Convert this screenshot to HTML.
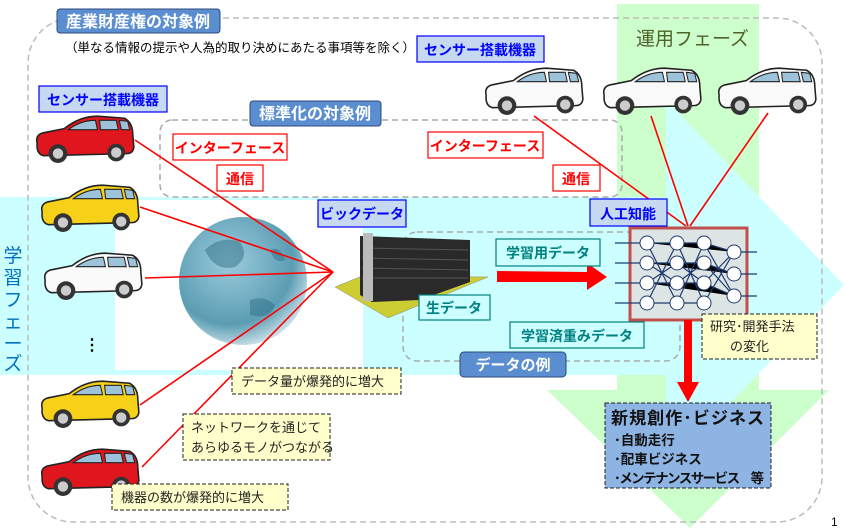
<!DOCTYPE html>
<html><head><meta charset="utf-8"><style>
html,body{margin:0;padding:0;background:#fff;}
svg{display:block;}
text{font-family:"Liberation Sans","Noto Sans CJK JP",sans-serif;}
.b{font-weight:bold;}
</style></head><body>
<svg width="844" height="528" viewBox="0 0 844 528" xmlns="http://www.w3.org/2000/svg">
<defs>
<radialGradient id="gl" cx="40%" cy="35%" r="70%"><stop offset="0" stop-color="#9ccbdc"/><stop offset="0.7" stop-color="#5b9db3"/><stop offset="1" stop-color="#dbeaf0"/></radialGradient>
<symbol id="car" viewBox="0 0 100 50">
<path d="M4,30 Q2,22 10,20 L30,16 Q45,4 62,4 L88,6 Q96,10 96,22 L97,34 Q96,40 90,40 L10,42 Q3,40 4,30Z" fill="currentColor" stroke="#222" stroke-width="1.5"/>
<path d="M34,17 Q46,8 60,8 L62,17Z M64,8 L80,8 L82,17 L65,17Z M83,8 L91,9 L93,17 L85,17Z" fill="#9cc3d9" stroke="#222"/>
<circle cx="24" cy="40" r="9" fill="#333"/><circle cx="24" cy="40" r="5" fill="#ccc"/>
<circle cx="80" cy="39" r="8.5" fill="#333"/><circle cx="80" cy="39" r="5" fill="#ccc"/>
</symbol>
</defs>
<polygon points="617,4 759,4 759,390 829,390 690,528 547,390 617,390" fill="#ccffcc"/>
<polygon points="0,197 666,197 666,100 844,285 666,470 666,375 0,375" fill="#ccffff"/>
<rect x="115" y="200" width="248" height="170" fill="#fff"/>
<circle cx="243" cy="281" r="64" fill="url(#gl)"/>
<path d="M205,250 q15,-15 35,-8 q10,15 -5,25 q-20,5 -30,-17Z M250,300 q15,-5 25,5 q-5,15 -25,10Z M270,250 q10,-5 15,10 q-10,5 -15,-10Z" fill="#2f6f86" opacity="0.5"/>
<rect x="28" y="18" width="794" height="504" rx="45" fill="none" stroke="#bbb" stroke-width="1.5" stroke-dasharray="6,4"/>
<rect x="160" y="120" width="462" height="77" rx="12" fill="none" stroke="#aaa" stroke-width="1.5" stroke-dasharray="6,4"/>
<rect x="403" y="232" width="277" height="129" rx="14" fill="none" stroke="#aaa" stroke-width="1.5" stroke-dasharray="6,4"/>
<polygon points="335,287 362,276 488,277 388,318" fill="#cccc33" stroke="#888" stroke-width="0.5"/>
<polygon points="360,236 470,240 470,282 420,300 372,302 360,295" fill="#2a2a2a"/>
<g stroke="#555" stroke-width="1"><line x1="362" y1="248" x2="468" y2="250"/><line x1="362" y1="258" x2="468" y2="260"/><line x1="362" y1="268" x2="468" y2="270"/><line x1="362" y1="278" x2="468" y2="278"/></g>
<rect x="363" y="233" width="10" height="68" fill="#bbb"/>
<g stroke="#f00" stroke-width="1.6">
<line x1="135" y1="140" x2="333" y2="272"/><line x1="140" y1="207" x2="333" y2="272"/><line x1="145" y1="278" x2="333" y2="272"/>
<line x1="140" y1="405" x2="333" y2="272"/><line x1="142" y1="467" x2="333" y2="272"/>
<line x1="534" y1="116" x2="686" y2="226"/><line x1="651" y1="116" x2="688" y2="226"/><line x1="768" y1="113" x2="690" y2="226"/>
</g>
<use href="#car" x="33" y="112" width="104" height="52" color="#e0161e"/>
<use href="#car" x="38" y="181" width="104" height="52" color="#f7d117"/>
<use href="#car" x="40" y="249" width="106" height="52" color="#fafafa"/>
<use href="#car" x="38" y="377" width="104" height="52" color="#f7d117"/>
<use href="#car" x="38" y="445" width="104" height="52" color="#e0161e"/>
<use href="#car" x="482" y="64" width="104" height="52" color="#fafafa"/>
<use href="#car" x="600" y="64" width="104" height="52" color="#fafafa"/>
<use href="#car" x="715" y="64" width="104" height="52" color="#fafafa"/>
<text x="84" y="350" font-size="16" class="b">⋮</text>
<rect x="630" y="228" width="117" height="92" fill="#dde4e4" stroke="#c0504d" stroke-width="3"/>
<g stroke="#1f3a6e" stroke-width="1.2">
<path d="M647,243 L677,243 L704,243 L734,252 M647,263 L677,263 L704,263 L734,274 M647,283 L677,283 L704,283 L734,296 M647,303 L677,303 L704,303"/>
<path d="M647,243 L677,303 M647,303 L677,243 M647,263 L677,283 M647,283 L677,263 M677,243 L704,303 M677,303 L704,243 M677,263 L704,283 M677,283 L704,263 M704,243 L734,296 M704,303 L734,252 M704,263 L734,296 M704,283 L734,252"/>
<path d="M615,243 L640,243 M615,263 L640,263 M615,283 L640,283 M615,303 L640,303 M740,252 L757,252 M740,274 L757,274 M740,296 L757,296"/>
</g>
<g fill="#fff" stroke="#1f3a6e" stroke-width="1"><circle cx="647" cy="243" r="7"/><circle cx="647" cy="263" r="7"/><circle cx="647" cy="283" r="7"/><circle cx="647" cy="303" r="7"/><circle cx="677" cy="243" r="7"/><circle cx="677" cy="263" r="7"/><circle cx="677" cy="283" r="7"/><circle cx="677" cy="303" r="7"/><circle cx="704" cy="243" r="7"/><circle cx="704" cy="263" r="7"/><circle cx="704" cy="283" r="7"/><circle cx="704" cy="303" r="7"/><circle cx="734" cy="252" r="7"/><circle cx="734" cy="274" r="7"/><circle cx="734" cy="296" r="7"/></g>
<polygon points="497,271 587,272 587,263 607,277 587,290 587,282 497,282" fill="#f00"/>
<polygon points="684,320 692,320 692,382 699,382 688,402 677,382 684,382" fill="#f00"/>
<rect x="57" y="9" width="163" height="24" rx="3" fill="#5a8ed0" stroke="#2c4a7c"/>
<text x="138" y="27" font-size="16" class="b" fill="#fff" text-anchor="middle">産業財産権の対象例</text>
<text x="65" y="52" font-size="12.5">（単なる情報の提示や人為的取り決めにあたる事項等を除く）</text>
<rect x="250" y="101" width="131" height="25" rx="3" fill="#5a8ed0" stroke="#2c4a7c"/>
<text x="315" y="119" font-size="16" class="b" fill="#fff" text-anchor="middle">標準化の対象例</text>
<rect x="460" y="352" width="106" height="25" rx="4" fill="#5a8ed0" stroke="#2c4a7c"/>
<text x="513" y="370" font-size="15" class="b" fill="#fff" text-anchor="middle">データの例</text>
<g fill="#c6d9f1" stroke="#00f" stroke-width="1.2">
<rect x="39" y="86" width="128" height="26"/><rect x="417" y="36" width="127" height="26"/>
<rect x="318" y="200" width="88" height="27"/><rect x="590" y="199" width="77" height="27"/></g>
<g fill="#00f" class="b" font-size="14" text-anchor="middle">
<text x="103" y="105">センサー搭載機器</text><text x="480" y="55">センサー搭載機器</text>
<text x="362" y="219">ビックデータ</text><text x="628" y="219">人工知能</text></g>
<g fill="#fff" stroke="#f00" stroke-width="1.2">
<rect x="173" y="134" width="114" height="26"/><rect x="217" y="165" width="46" height="26"/>
<rect x="428" y="132" width="115" height="26"/><rect x="553" y="165" width="47" height="26"/></g>
<g fill="#f00" class="b" font-size="14" text-anchor="middle">
<text x="230" y="153">インターフェース</text><text x="240" y="184">通信</text>
<text x="485" y="151">インターフェース</text><text x="576" y="184">通信</text></g>
<g fill="#ccffff" stroke="#008080" stroke-width="1.2">
<rect x="496" y="239" width="104" height="27"/><rect x="419" y="295" width="71" height="25"/><rect x="510" y="322" width="134" height="26"/></g>
<g fill="#008080" class="b" font-size="14" text-anchor="middle">
<text x="548" y="258">学習用データ</text><text x="454" y="313">生データ</text><text x="577" y="341">学習済重みデータ</text></g>
<text x="636" y="45" font-size="19" fill="#4f6228">運用フェーズ</text>
<g font-size="19" fill="#0070c0" text-anchor="middle"><text x="13" y="262">学</text><text x="13" y="284">習</text><text x="13" y="306">フ</text><text x="13" y="328">ェ</text><text x="13" y="350">ー</text><text x="13" y="370">ズ</text></g>
<g fill="#ffffcc" stroke="#222" stroke-width="1" stroke-dasharray="4,2">
<rect x="232" y="368" width="169" height="26"/><rect x="183" y="414" width="147" height="46"/><rect x="112" y="484" width="176" height="26"/><rect x="702" y="314" width="115" height="45"/></g>
<g font-size="13" fill="#222">
<text x="241" y="386">データ量が爆発的に増大</text><text x="191" y="432">ネットワークを通じて</text><text x="191" y="452">あらゆるモノがつながる</text>
<text x="121" y="502">機器の数が爆発的に増大</text><text x="710" y="331">研究･開発手法</text><text x="730" y="351">の変化</text></g>
<rect x="605" y="403" width="166" height="85" fill="#8eb4e3" stroke="#222" stroke-dasharray="4,2"/>
<text x="611" y="424" font-size="17" class="b" fill="#111" textLength="153">新規創作･ビジネス</text>
<g font-size="13.5" class="b" fill="#111"><text x="614" y="445">･自動走行</text><text x="614" y="464">･配車ビジネス</text><text x="614" y="483" textLength="150">･メンテナンスサービス　等</text></g>
<text x="831" y="526" font-size="12">1</text>
</svg>
</body></html>
